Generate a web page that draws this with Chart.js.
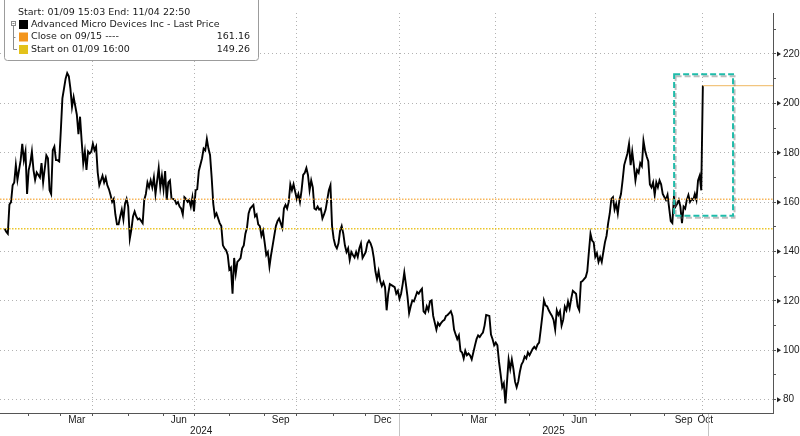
<!DOCTYPE html>
<html>
<head>
<meta charset="utf-8">
<title>AMD - Last Price</title>
<script src="https://cdn.jsdelivr.net/npm/chart.js@4.4.0/dist/chart.umd.min.js"></script>
<style>
  html, body { margin: 0; padding: 0; background: #fff; }
  #wrap { width: 800px; height: 436px; }
</style>
</head>
<body>
<div id="wrap"><canvas id="chart" width="800" height="436"></canvas></div>
<script>
// Daily last price, one value per trading day from 01/09/2024 (index 0); null = not read
const dailyClose = [
  null, 149.3, 148, 147.2, 159, 160, 166.8, 168, 175, 169,
  null, 177, 183.6, 177, 180.5, 163.3, 173, 175.8, 180.5, 173,
  169, 172, null, 170, 175.8, 168, null, 179, 177.8, 164.8,
  163.3, 181, 182.5, 177, 177, 176.5, 188.7, 202, 206, 210,
  212.3, 211, 206, 198.5, 202.5, null, 195.4, 187.5, 194.6, 184.8,
  175.8, 180.5, 173, 180.5, 179.7, 180.5, 183.6, 181, 182.5, 172,
  166.8, null, 170.7, 168, 170, 166.8, 165.2, 162.9, 160.1, 161.3,
  155, 151, 151, 154.2, 157, 153, 159.3, 161.3, 158.2, 145.2,
  149, 154.2, 156.2, 154.2, 153, 153.4, null, 151.5, 160.9, 163.3,
  168, 166, 168.8, 166, 170, 163.3, null, 173.8, 166, 170.7,
  165.2, 172.6, 160.9, 168, 168.8, 161.3, 161.3, 160.9, 159.3, 160,
  158.2, 157.4, 155, 162, 161.3, 160.1, 160.9, 158.2, 162, 156.2,
  164.8, 165.2, 172.6, null, 177.8, 181.7, 181, 185.6, 181.7, 179,
  170, 159.3, 154.2, 155.4, null, 151.5, 150.3, 142.5, 141.3, 140.5,
  138.6, 132.7, 133.5, 122.9, 137.4, 131, 135.8, 136.5, 137.3, 141.3,
  142.5, 147.2, 149.6, 155.4, 157.4, null, 158.9, 154.2, 155, 151,
  150.3, 146.4, 148.4, 143.7, 138.6, 139.8, 133.9, 138.6, 142.5, 146.4,
  150.3, 152.3, 153.4, 151.5, 149.6, 157.4, 158.9, 157.4, 160.1, 167.2,
  164.8, 167.2, null, 161.3, 163.3, 160.1, 164.8, 171, 171.9, 173.8,
  171, 164.8, 168.8, 166, 157.4, 157, 158.2, 157, 157.4, 153.4,
  155, 157, 160.9, 164.8, 166.8, 150.3, 145.2, 142.5, 141.3, 143.3,
  148.4, 150.3, 147.2, 142.5, 139.8, 141.3, 136.6, 139.8, 138.6, 137.6,
  139.8, 137.8, 141.3, 143.3, 137.4, 138.6, 139.8, 143.3, 144.4, 143.3,
  141.3, 137.4, 132, 128.8, 132, 128, 126, 127.6, 125.6, 116.2,
  122.9, 126.8, null, 126, 125.6, 122.9, 124.1, 120.9, 122.9, 126.8,
  131.5, 126.8, 121.7, 115, 117.8, 120.2, 119.8, 121.7, 123.6, 122.9,
  124.1, 124.9, 115.8, 115, 117.8, 116.2, 119.8, 120.2, 113.9, null,
  108.4, 111.1, 110, 111.1, 111.9, 112.3, 113.9, 114.3, 115, 115.8,
  113.9, 108.4, 106.4, 104.5, 106, 99.8, 99.1, 96.7, 99.8, 98,
  98.7, 97.9, 96.3, 99.1, 101.9, 104.5, 106, 105.4, 106.4, 107.2,
  110, 114.3, null, 113.9, 106.4, 104.5, 102, 103.1, 102, 95.4,
  90.3, 85, 86.6, 78.5, 87.3, 96.3, 92.4, 96.3, 92.4, 87.3,
  85, 87.3, 91.3, 94.2, 95.4, 97.5, 96.7, 99.1, 98, null,
  100.6, 101.4, 100.6, 102.3, 103.1, 108.4, 113.9, 120.2, 118.2, 117.8,
  116.2, 115, 113.9, 112.3, 108.4, 116.2, 114.3, 115.8, 110, 112.3,
  117.7, 116.2, 119.7, 117, 120.9, 124.1, null, 122.9, 117.7, 116.2,
  127.6, 128, 128.8, 129.6, 132, 139.8, 147.2, 144.4, 143.7, 137.8,
  139.3, 135.8, 137.8, 135.8, 139.8, 143.7, 146.4, 151.5, 155.4, 161.3,
  162, 157, 159.3, 155.4, 160.9, 163.3, 168.8, 175, null, 179.7,
  183.6, 175, 180.5, 175, 168.8, 173, 171.9, 175.8, 174.6, 184.8,
  180.9, 178.5, 176.6, 167.2, 166, 168, 162.9, 168, 166, 168.8,
  167.2, 163.3, 162.1, 160.9, 162.9, null, 152.3, 151.5, 162.1, 158.2,
  159.3, 160.9, 158.2, 151.5, 158.2, 157.4, 160.9, 162.9, 160.1, 161.3,
  160.9, 163.3, 160.9, 168.8, 170.7, 164.8, 207.2
];

// reference levels shown in the legend
const closeLevel = 161.16;   // Close on 09/15
const startLevel = 149.26;   // Start on 01/09 16:00

// axis: trading-day index of each month start (Feb 2024 .. Oct 2025)
const monthStarts = [16, 36, 56, 78, 100, 119, 141, 163, 183, 206, 226, 247, 267, 286, 307, 328, 349, 369, 391, 412, 436];
const quarterStarts = [56, 119, 183, 247, 307, 369, 436];
const axisMonths = ['Mar', 'Jun', 'Sep', 'Dec', 'Mar', 'Jun', 'Sep', 'Oct'];
const axisMonthSpans = [[36, 56], [100, 119], [163, 183], [226, 247], [286, 307], [349, 369], [412, 436], [436, 439]];
const years = ['2024', '2025'];
const yearBounds = [0, 247, 439];
const yTicks = [80, 90, 100, 110, 120, 130, 140, 150, 160, 170, 180, 190, 200, 210, 220, 230];

// highlight box (trading days, price)
const boxDays = [418.1, 454.8];
const boxPrices = [154.5, 211.8];

const xMin = -1.87, xMax = 479.7;
const yMin = 74.6, yMax = 236.6;

const lastDay = dailyClose.length - 1;
const lastPrice = dailyClose[lastDay];

const legendItems = [
    { label: 'Close on 09/15 ----', value: closeLevel, color: '#f3951c' },
    { label: 'Start on 01/09 16:00', value: startLevel, color: '#e3c21b' }
];

const FONT = '"DejaVu Sans", "Noto Sans", sans-serif';
const AXIS_FONT = '"Liberation Sans", Arial, sans-serif';

// annotations, axis labels and legend box
const decor = {
    id: 'decor',
    afterDatasetsDraw(chart) {
        const { ctx, scales: { x, y } } = chart;
        const l = x.getPixelForValue(boxDays[0]);
        const r = x.getPixelForValue(boxDays[1]);
        const t = y.getPixelForValue(boxPrices[1]);
        const b = y.getPixelForValue(boxPrices[0]);
        ctx.save();
        ctx.lineWidth = 2;
        ctx.setLineDash([6, 3]);
        ctx.strokeStyle = 'rgba(110,110,110,0.45)';
        ctx.strokeRect(l + 1.5, t + 2, r - l, b - t);
        ctx.strokeStyle = '#1fbcaa';
        ctx.strokeRect(l, t, r - l, b - t);
        ctx.restore();
    },
    afterDraw(chart) {
        const { ctx, scales: { x, y } } = chart;
        ctx.save();

        // triangles on the price axis
        ctx.fillStyle = '#222';
        yTicks.filter(v => v % 20 === 0).forEach(v => {
            const py = y.getPixelForValue(v);
            ctx.beginPath();
            ctx.moveTo(777, py - 2.5);
            ctx.lineTo(781, py);
            ctx.lineTo(777, py + 2.5);
            ctx.closePath();
            ctx.fill();
        });

        // month and year labels
        ctx.fillStyle = '#1a1a1a';
        ctx.font = '10px ' + AXIS_FONT;
        ctx.textAlign = 'center';
        ctx.textBaseline = 'middle';
        axisMonths.forEach((m, i) => {
            const [a, b] = axisMonthSpans[i];
            ctx.fillText(m, (x.getPixelForValue(a) + x.getPixelForValue(b)) / 2, 420.5);
        });
        years.forEach((yr, i) => {
            const a = x.getPixelForValue(yearBounds[i]);
            const b = x.getPixelForValue(yearBounds[i + 1]);
            ctx.fillText(yr, (a + b) / 2, 431);
        });
        ctx.strokeStyle = '#c4c4c4';
        ctx.lineWidth = 1;
        yearBounds.slice(1).forEach(d => {
            const px = Math.round(x.getPixelForValue(d)) + 0.5;
            ctx.beginPath();
            ctx.moveTo(px, 414);
            ctx.lineTo(px, 436);
            ctx.stroke();
        });

        // legend box
        ctx.fillStyle = '#fff';
        ctx.strokeStyle = '#9c9c9c';
        ctx.beginPath();
        ctx.roundRect(4.5, -4.5, 254, 65, 3);
        ctx.fill();
        ctx.stroke();

        ctx.fillStyle = '#1a1a1a';
        ctx.textAlign = 'left';
        ctx.font = '9.5px ' + FONT;
        ctx.fillText('Start: 01/09 15:03 End: 11/04 22:50', 18, 13);

        // tree marker
        ctx.strokeStyle = '#8a8a8a';
        ctx.strokeRect(11.5, 21.5, 4, 4);
        ctx.beginPath();
        ctx.moveTo(12.5, 23.5); ctx.lineTo(14.5, 23.5);
        ctx.moveTo(13.5, 26); ctx.lineTo(13.5, 49.5); ctx.lineTo(17, 49.5);
        ctx.moveTo(13.5, 37.5); ctx.lineTo(15.5, 37.5);
        ctx.stroke();

        ctx.fillStyle = '#000';
        ctx.fillRect(19, 20, 9, 9);
        ctx.fillStyle = '#1a1a1a';
        ctx.fillText('Advanced Micro Devices Inc - Last Price', 31, 25);

        legendItems.forEach((it, i) => {
            const cy = 37 + i * 12.5;
            ctx.fillStyle = it.color;
            ctx.fillRect(19, cy - 4.5, 9, 9);
            ctx.fillStyle = '#1a1a1a';
            ctx.textAlign = 'left';
            ctx.fillText(it.label, 31, cy);
            ctx.textAlign = 'right';
            ctx.fillText(it.value.toFixed(2), 250, cy);
        });
        ctx.restore();
    }
};

const ctx = document.getElementById('chart').getContext('2d');
new Chart(ctx, {
    type: 'line',
    data: {
        datasets: [
            {
                data: [{ x: xMin, y: closeLevel }, { x: xMax, y: closeLevel }],
                borderColor: '#f7b65a', borderWidth: 1.5, borderDash: [1.5, 1.5], pointRadius: 0
            },
            {
                data: [{ x: xMin, y: startLevel }, { x: xMax, y: startLevel }],
                borderColor: '#ecc52a', borderWidth: 1.5, borderDash: [1.5, 1.5], pointRadius: 0
            },
            {
                data: [{ x: lastDay, y: lastPrice }, { x: xMax, y: lastPrice }],
                borderColor: '#f2c57f', borderWidth: 1.2, pointRadius: 0
            },
            {
                data: dailyClose.map((v, i) => ({ x: i, y: v })),
                borderColor: '#000', borderWidth: 1.9, pointRadius: 0,
                spanGaps: true, tension: 0
            }
        ]
    },
    options: {
        responsive: false,
        animation: false,
        events: [],
        layout: { padding: 0 },
        plugins: { legend: { display: false }, tooltip: { enabled: false } },
        scales: {
            x: {
                type: 'linear', min: xMin, max: xMax,
                afterBuildTicks: s => { s.ticks = monthStarts.map(v => ({ value: v })); },
                afterFit: s => { s.height = 23; },
                grid: {
                    color: c => (c.tick && quarterStarts.includes(c.tick.value)) ? '#b2b2b2' : 'rgba(0,0,0,0)',
                    tickColor: '#555', tickLength: 3, lineWidth: 1
                },
                border: { display: true, color: '#555', width: 1, dash: [1, 3] },
                ticks: { display: false, autoSkip: false }
            },
            y: {
                type: 'linear', position: 'right', min: yMin, max: yMax,
                afterBuildTicks: s => { s.ticks = yTicks.map(v => ({ value: v })); },
                afterFit: s => { s.width = 27; },
                grid: {
                    color: c => (c.tick && c.tick.value % 20 === 0) ? '#b2b2b2' : 'rgba(0,0,0,0)',
                    tickColor: '#555', tickLength: 3, lineWidth: 1
                },
                border: { display: true, color: '#555', width: 1, dash: [1, 3] },
                ticks: {
                    autoSkip: false, padding: 7, color: '#1a1a1a',
                    font: { family: AXIS_FONT, size: 10 },
                    callback: v => (v % 20 === 0 ? String(v) : '')
                }
            }
        }
    },
    plugins: [decor]
});
</script>
</body>
</html>
